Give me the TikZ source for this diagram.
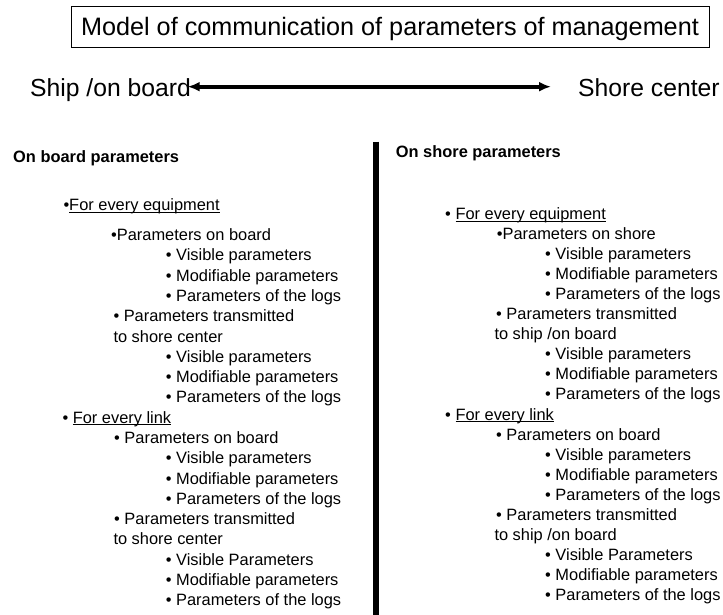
\documentclass[tikz,border=0pt]{standalone}
\usepackage{fontspec}
\setmainfont{Liberation Sans}
\usetikzlibrary{arrows.meta}

\newcommand{\ulin}[1]{\setbox0\hbox{#1}\rlap{\rule[-2pt]{\wd0}{0.9pt}}\box0}

\begin{document}
\begin{tikzpicture}[x=1pt, y=-1pt,
  item/.style={anchor=base west, inner sep=0pt, font=\fontsize{16.4}{18}\selectfont},
  head/.style={item, font=\fontsize{16.4}{18}\selectfont\bfseries},
  big/.style={inner sep=0pt, text height=20.6pt, text depth=0pt, font=\fontsize{24.7}{28}\selectfont},
  link/.style={{Latex[length=12pt,width=10pt]}-{Latex[length=12pt,width=10pt]}, line width=4pt},
  divider/.style={line width=6pt}]
  \useasboundingbox (0,0) rectangle (723,615);

  \node[draw, line width=0.8pt, anchor=base, inner sep=0pt, text height=29pt, text depth=11.3pt,
        minimum width=638pt, font=\fontsize{25.2}{28}\selectfont] (title) at (390,35.7)
        {Model of communication of parameters of management};

  \node[big, anchor=base west] (ship) at (30,97) {Ship /on board};
  \node[big, anchor=base west] (shore) at (578,97) {Shore center};
  \draw[link, shorten <=-3.4pt, shorten >=27pt] (ship) -- (shore);

  \draw[divider] (375.5,141.7) -- (375.5,615);

  \node[head] (board-head) at (13,162.3) {On board parameters};
  \node[head] (shore-head) at (395.7,157.7) {On shore parameters};

  % on board list
  \foreach \x/\t [count=\i, evaluate=\i as \yy using {\i==1 ? 210.7 : 240.7+20.28*(\i-2)}] in {
    63.3/{•\ulin{For every equipment}},
    111/{•Parameters on board},
    165.7/{• Visible parameters},
    165.7/{• Modifiable parameters},
    165.7/{• Parameters of the logs},
    113.3/{• Parameters transmitted},
    113.3/{to shore center},
    165.7/{• Visible parameters},
    165.7/{• Modifiable parameters},
    165.7/{• Parameters of the logs},
    62.3/{• \ulin{For every link}},
    114/{• Parameters on board},
    165.7/{• Visible parameters},
    165.7/{• Modifiable parameters},
    165.7/{• Parameters of the logs},
    114/{• Parameters transmitted},
    113.3/{to shore center},
    165.7/{• Visible Parameters},
    165.7/{• Modifiable parameters},
    165.7/{• Parameters of the logs}}
    \node[item] (b-\i) at (\x,\yy) {\t};

  % on shore list
  \foreach \x/\t [count=\i, evaluate=\i as \yy using {219.5+20.05*(\i-1)}] in {
    445/{• \ulin{For every equipment}},
    496.7/{•Parameters on shore},
    545/{• Visible parameters},
    545/{• Modifiable parameters},
    545/{• Parameters of the logs},
    496/{• Parameters transmitted},
    494.3/{to ship /on board},
    545/{• Visible parameters},
    545/{• Modifiable parameters},
    545/{• Parameters of the logs},
    445/{• \ulin{For every link}},
    496/{• Parameters on board},
    545/{• Visible parameters},
    545/{• Modifiable parameters},
    545/{• Parameters of the logs},
    496/{• Parameters transmitted},
    494.3/{to ship /on board},
    545/{• Visible Parameters},
    545/{• Modifiable parameters},
    545/{• Parameters of the logs}}
    \node[item] (s-\i) at (\x,\yy) {\t};
\end{tikzpicture}
\end{document}
